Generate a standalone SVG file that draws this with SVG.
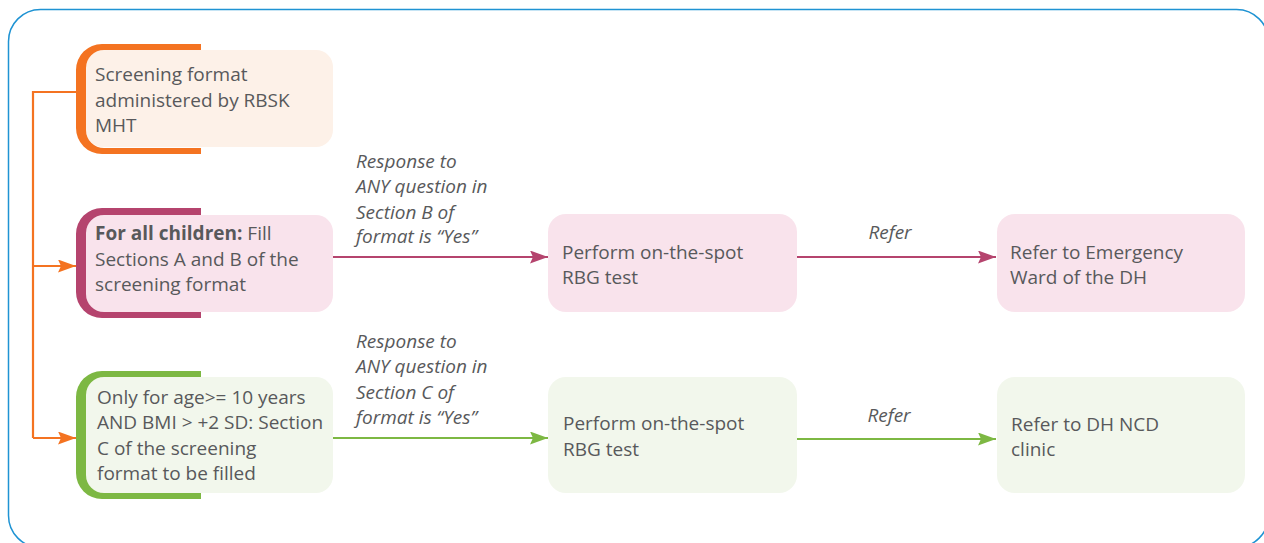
<svg xmlns="http://www.w3.org/2000/svg" width="1264" height="543" viewBox="0 0 1264 543">
<defs>
<style>
.t{font-family:"Open Sans","Liberation Sans",sans-serif;font-size:19px;fill:#58595b}
.i{font-style:italic}
.b{font-weight:bold}
.ln{fill:none;stroke-width:2.2}
</style>
<marker id="aO" viewBox="0 0 18 13" refX="18" refY="6.5" markerWidth="18" markerHeight="13" markerUnits="userSpaceOnUse" orient="auto"><path d="M0,0 L18,6.5 L0,13 L3,6.5 Z" fill="#f47321"/></marker>
<marker id="aM" viewBox="0 0 18 13" refX="18" refY="6.5" markerWidth="18" markerHeight="13" markerUnits="userSpaceOnUse" orient="auto"><path d="M0,0 L18,6.5 L0,13 L3,6.5 Z" fill="#b5446e"/></marker>
<marker id="aG" viewBox="0 0 18 13" refX="18" refY="6.5" markerWidth="18" markerHeight="13" markerUnits="userSpaceOnUse" orient="auto"><path d="M0,0 L18,6.5 L0,13 L3,6.5 Z" fill="#7db843"/></marker>
</defs>
<rect x="0" y="0" width="1264" height="543" fill="#ffffff"/>
<rect x="8.5" y="9.5" width="1260" height="538" rx="32" fill="none" stroke="#1f93d3" stroke-width="1.5"/>

<g id="node-screening">
<rect x="86" y="50" width="247" height="97" rx="17" fill="#fdf1e8"/>
<path d="M201,44 H102 A26,26 0 0 0 76,70 V128 A26,26 0 0 0 102,154 H201 V148 H104 A18,18 0 0 1 86,130 V68 A18,18 0 0 1 104,50 H201 Z" fill="#f47321"/>
<text class="t" x="95" y="81">Screening format</text>
<text class="t" x="95" y="107">administered by RBSK</text>
<text class="t" x="95" y="132">MHT</text>
</g>

<g id="node-all-children">
<rect x="86" y="215" width="247" height="97" rx="17" fill="#f9e3ec"/>
<path d="M201,208 H102 A26,26 0 0 0 76,234 V292 A26,26 0 0 0 102,318 H201 V312 H104 A18,18 0 0 1 86,294 V233 A18,18 0 0 1 104,215 H201 Z" fill="#b5446e"/>
<text class="t" x="95" y="240"><tspan class="b">For all children:</tspan> Fill</text>
<text class="t" x="95" y="266">Sections A and B of the</text>
<text class="t" x="95" y="291">screening format</text>
</g>

<g id="node-age10">
<rect x="86" y="377" width="247" height="116" rx="17" fill="#f2f7ec"/>
<path d="M201,371 H102 A26,26 0 0 0 76,397 V473 A26,26 0 0 0 102,499 H201 V493 H104 A18,18 0 0 1 86,475 V395 A18,18 0 0 1 104,377 H201 Z" fill="#7db843"/>
<text class="t" x="97" y="404">Only for age&gt;= 10 years</text>
<text class="t" x="97" y="429">AND BMI &gt; +2 SD: Section</text>
<text class="t" x="97" y="455">C of the screening</text>
<text class="t" x="97" y="480">format to be filled</text>
</g>

<g id="node-rbg-b">
<rect x="548" y="214" width="249" height="98" rx="18" fill="#f9e3ec"/>
<text class="t" x="562" y="259">Perform on-the-spot</text>
<text class="t" x="562" y="284">RBG test</text>
</g>

<g id="node-emergency">
<rect x="997" y="214" width="248" height="98" rx="18" fill="#f9e3ec"/>
<text class="t" x="1010" y="259">Refer to Emergency</text>
<text class="t" x="1010" y="284">Ward of the DH</text>
</g>

<g id="node-rbg-c">
<rect x="548" y="377" width="249" height="116" rx="18" fill="#f2f7ec"/>
<text class="t" x="563" y="430">Perform on-the-spot</text>
<text class="t" x="563" y="456">RBG test</text>
</g>

<g id="node-ncd">
<rect x="997" y="377" width="248" height="116" rx="18" fill="#f2f7ec"/>
<text class="t" x="1011" y="431">Refer to DH NCD</text>
<text class="t" x="1011" y="456">clinic</text>
</g>

<g id="connectors">
<path class="ln" stroke="#f47321" d="M76,92 H33 V438"/>
<path class="ln" stroke="#f47321" d="M33,266 H76" marker-end="url(#aO)"/>
<path class="ln" stroke="#f47321" d="M33,438 H76" marker-end="url(#aO)"/>
<path class="ln" stroke="#b5446e" d="M333,257 H548" marker-end="url(#aM)"/>
<path class="ln" stroke="#b5446e" d="M797,257 H996" marker-end="url(#aM)"/>
<path class="ln" stroke="#7db843" d="M333,438 H548" marker-end="url(#aG)"/>
<path class="ln" stroke="#7db843" d="M797,439 H996" marker-end="url(#aG)"/>
<text class="t i" x="356" y="168">Response to</text>
<text class="t i" x="356" y="193">ANY question in</text>
<text class="t i" x="356" y="219">Section B of</text>
<text class="t i" x="356" y="243">format is “Yes”</text>
<text class="t i" x="890" y="239" text-anchor="middle">Refer</text>
<text class="t i" x="356" y="348">Response to</text>
<text class="t i" x="356" y="373">ANY question in</text>
<text class="t i" x="356" y="399">Section C of</text>
<text class="t i" x="356" y="424">format is “Yes”</text>
<text class="t i" x="889" y="422" text-anchor="middle">Refer</text>
</g>
</svg>
